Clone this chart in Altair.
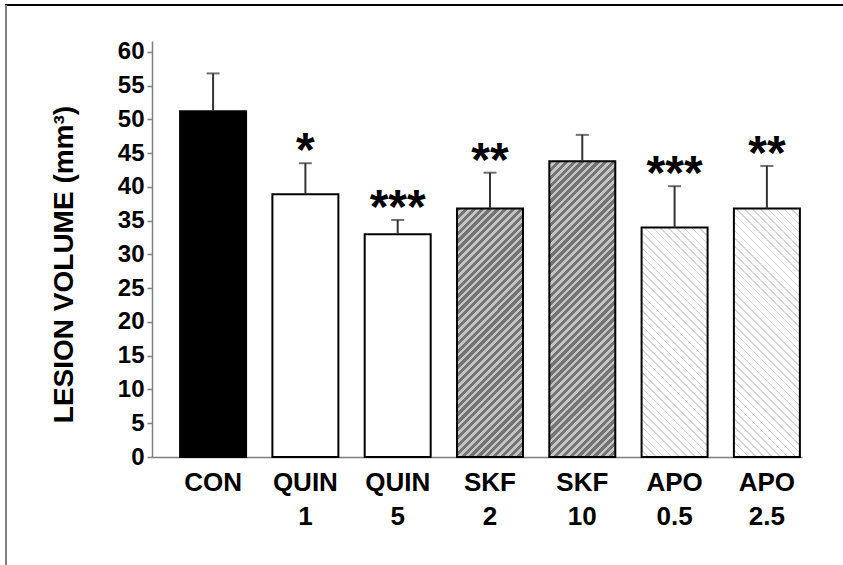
import altair as alt
import pandas as pd

# ---- data ----
groups = ["CON", "QUIN", "QUIN", "SKF", "SKF", "APO", "APO"]
doses = ["", "1", "5", "2", "10", "0.5", "2.5"]
means = [51.2, 38.9, 33.0, 36.8, 43.8, 34.0, 36.8]
sems = [5.6, 4.6, 2.1, 5.3, 3.9, 6.1, 6.3]
stars = ["", "*", "***", "**", "", "***", "**"]
y_ticks = [0, 5, 10, 15, 20, 25, 30, 35, 40, 45, 50, 55, 60]

keys = [g if d == "" else f"{g}|{d}" for g, d in zip(groups, doses)]
df = pd.DataFrame({
    "key": keys,
    "mean": means,
    "upper": [m + s for m, s in zip(means, sems)],
    "star": stars,
})

# ---- layout / style ----
FONT = "Liberation Sans"
PLOT_W, PLOT_H = 650, 416
Y_MAX = 61.6
PX_PER_UNIT = PLOT_H / Y_MAX
BAR_W = 66.0


def stripes(h_px, direction, c1, c2, period, frac):
    """Linear gradient that draws 45-degree stripes inside a w x h box."""
    w = BAR_W
    c = (w + h_px) / (w * w + h_px * h_px)
    if direction == "/":
        x1, y1, x2, y2 = 0.0, 0.0, c * w, c * h_px
    else:
        x1, y1, x2, y2 = 0.0, 1.0, c * w, 1.0 - c * h_px
    span = (w + h_px) / 2 ** 0.5
    n = int(span / period) + 1
    stops = []
    for k in range(n):
        a = k / n
        b = (k + frac) / n
        e = (k + 1) / n
        stops += [
            {"offset": a, "color": c1},
            {"offset": b, "color": c1},
            {"offset": b, "color": c2},
            {"offset": e, "color": c2},
        ]
    return {"gradient": "linear", "x1": x1, "y1": y1, "x2": x2, "y2": y2, "stops": stops}


def fill_for(group, value):
    h = value * PX_PER_UNIT
    if group == "CON":
        return "#000000"
    if group == "QUIN":
        return "#ffffff"
    if group == "SKF":
        return stripes(h, "/", "#747474", "#c4c4c4", 5.6, 0.55)
    return stripes(h, "\\", "#ffffff", "#d6d6d6", 5.6, 0.8)


x_scale = alt.Scale(paddingInner=0.285, paddingOuter=0.1636, align=0.93)
x_axis = alt.Axis(
    title=None,
    labelExpr="split(datum.label, '|')",
    labelAngle=0,
    labelFont=FONT,
    labelFontSize=26,
    labelFontWeight="bold",
    labelColor="#000000",
    labelBaseline="top",
    labelLineHeight=34,
    labelPadding=12,
    ticks=False,
    domainColor="#7f7f7f",
    domainWidth=1.5,
    grid=False,
)
y_scale = alt.Scale(domain=[0, Y_MAX], nice=False, zero=True)
y_axis = alt.Axis(
    values=y_ticks,
    labelOverlap=False,
    title="LESION VOLUME (mm³)",
    titleFont=FONT,
    titleFontSize=28,
    titleFontWeight="bold",
    titleColor="#000000",
    titleAngle=-90,
    titleAlign="center",
    titleBaseline="middle",
    titleX=-88,
    titleY=223,
    labelFont=FONT,
    labelFontSize=24,
    labelFontWeight="bold",
    labelColor="#000000",
    labelPadding=3,
    tickSize=5,
    tickColor="#7f7f7f",
    tickWidth=1.5,
    domainColor="#7f7f7f",
    domainWidth=1.5,
    grid=False,
)


def X():
    return alt.X("key:N", sort=keys, scale=x_scale, axis=x_axis)


def Y(field):
    return alt.Y(field, type="quantitative", scale=y_scale, axis=y_axis)


base = alt.Chart(df)

bar_layers = []
for g, k, m in zip(groups, keys, means):
    bar_layers.append(
        base.transform_filter(alt.datum.key == k)
        .mark_bar(fill=fill_for(g, m), stroke="#000000", strokeWidth=2)
        .encode(x=X(), y=Y("mean"))
    )

err_rule = base.mark_rule(color="#333333", strokeWidth=2).encode(
    x=X(), y=Y("mean"), y2="upper:Q"
)
err_cap = base.mark_tick(color="#333333", thickness=2, size=13).encode(
    x=X(), y=Y("upper")
)
star_text = base.mark_text(
    font=FONT, fontSize=48, fontWeight="bold", color="#000000",
    baseline="alphabetic", align="center", dy=3,
).encode(x=X(), y=Y("upper"), text="star:N")

# page frame (top and left border of the original figure)
frame_top = base.mark_rule(color="#000000", strokeWidth=1.5).encode(
    x=alt.value(-147), x2=alt.value(691), y=alt.value(-36)
)
frame_left = base.mark_rule(color="#7f7f7f", strokeWidth=2).encode(
    x=alt.value(-146), y=alt.value(-36), y2=alt.value(524)
)

chart = alt.layer(
    *bar_layers, err_rule, err_cap, star_text, frame_top, frame_left
).properties(
    width=PLOT_W,
    height=PLOT_H,
    padding={"left": 152, "top": 41, "right": 41, "bottom": 108},
    autosize=alt.AutoSizeParams(type="none"),
    background="#ffffff",
).configure_view(stroke=None)

chart.save("out.html", embed_options={"renderer": "svg", "actions": False})
